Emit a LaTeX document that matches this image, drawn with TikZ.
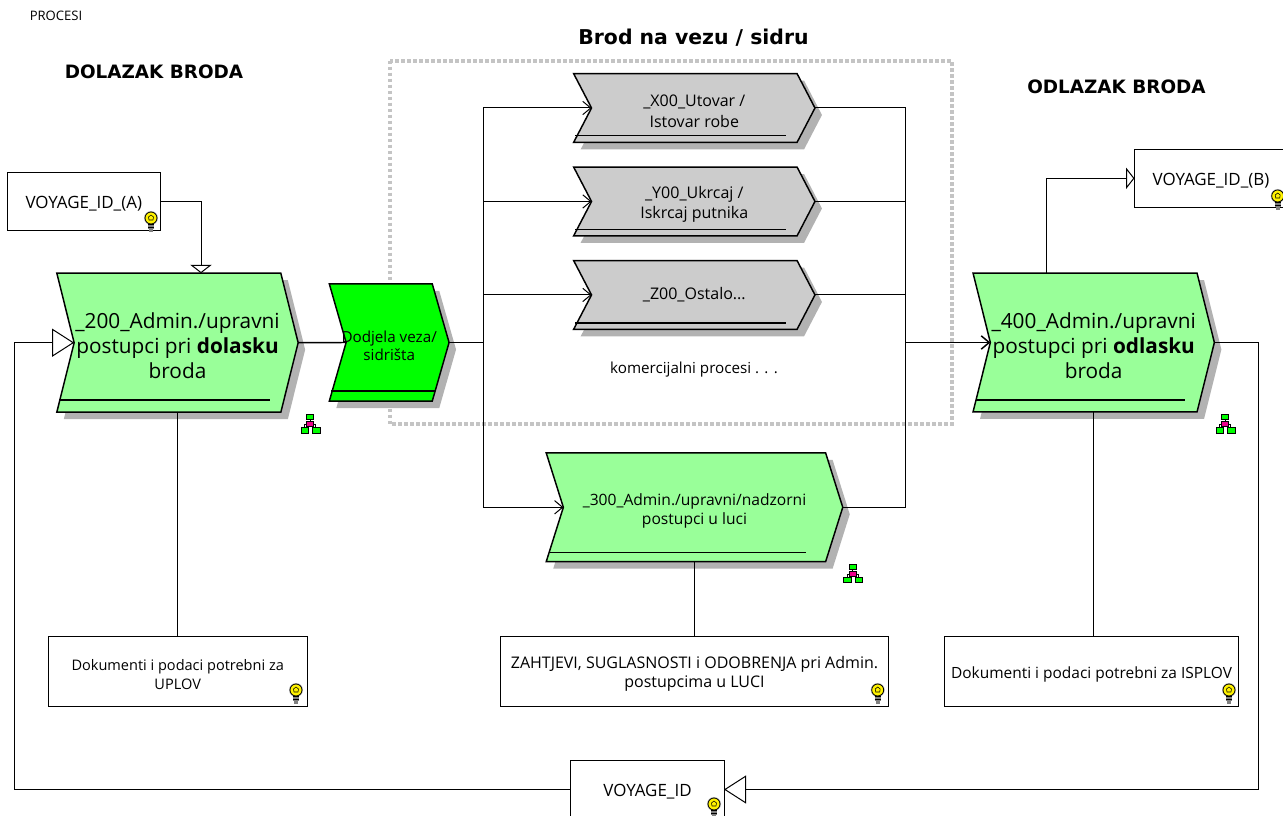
\documentclass[tikz,border=0pt]{standalone}
\usepackage{fontspec}
\setmainfont{Open Sans}
\newfontfamily\headfont{DejaVu Sans}
\usepackage{tikz}
\usetikzlibrary{shapes.symbols,shadows,arrows.meta,positioning}
\definecolor{lightgreen}{HTML}{99FF99}
\definecolor{fullgreen}{HTML}{00FF00}
\definecolor{greybox}{HTML}{CCCCCC}
\definecolor{greyshadow}{HTML}{B2B2B2}
\definecolor{greyframe}{HTML}{C4C4C4}
\newcommand{\topgap}[1]{\rule{0pt}{#1}}
\tikzset{
	bulb/.pic={
		\fill[white!75!black] (0,0) circle (7);
		\fill[gray] (-3,4) rectangle (3,11);
		\fill[gray] (-2,11) rectangle (2,14);
		\draw[black,line width=0.4pt] (-3,6.5) -- (3,6.5) (-3,9) -- (3,9);
		\draw[black,fill=yellow,line width=0.6pt] (0,0) circle (6);
		\draw[black,line width=0.4pt] (-2,2) -- (-2.5,-1) -- (0,-3) -- (2.5,-1) -- (2,2) -- cycle;
	},
	tree/.pic={
		\draw[black,line width=0.5pt] (3.5,2) -- (3.5,9) (-2,16) -- (-2,10) -- (9,10) -- (9,16);
		\draw[black,fill=fullgreen,line width=0.5pt] (0,0) rectangle (7,5);
		\draw[black,fill=magenta,line width=0.5pt] (0,7) rectangle (7,12);
		\draw[black,fill=fullgreen,line width=0.5pt] (-5.5,13) rectangle (2,18.5);
		\draw[black,fill=fullgreen,line width=0.5pt] (6,13) rectangle (13.5,18.5);
	}
}
\begin{document}
\begin{tikzpicture}[x=0.75pt,y=-0.75pt]
	\tikzstyle{chevron} = [draw, signal, signal to=east, signal from=west, line width=1.1pt,
	inner sep=0pt, outer sep=0pt, align=center,
	drop shadow={shadow xshift=5.25pt, shadow yshift=-5.25pt, fill=greyshadow, opacity=1}];
	\tikzstyle{bigtext} = [font=\fontsize{15.6}{18.8}\selectfont];
	\tikzstyle{smalltext} = [font=\fontsize{11.4}{14.4}\selectfont];
	\tikzstyle{admin} = [chevron, bigtext, fill=lightgreen, minimum width=181pt, minimum height=104.2pt, signal pointer angle=152];
	\tikzstyle{commercial} = [chevron, font=\fontsize{12}{15.2}\selectfont, fill=greybox, minimum width=181pt, minimum height=51.6pt, signal pointer angle=125];
	\tikzstyle{notebox} = [draw, smalltext, fill=white, inner sep=0pt, outer sep=0pt, align=center, line width=0.75pt];
	\tikzstyle{voyagebox} = [notebox, font=\fontsize{12.7}{15}\selectfont, minimum width=114.8pt, minimum height=43.5pt];
	\tikzstyle{heading} = [font=\headfont\fontsize{13.8}{16}\selectfont\bfseries];
	\tikzstyle{link} = [line width=0.75pt];
	\tikzstyle{mainlink} = [line width=1.1pt];
	\tikzstyle{flow} = [link, -{Straight Barb[length=6pt,width=10pt]}];
	\tikzstyle{bigtip} = [link, -{Triangle[open,fill=white,length=16.5pt,width=21pt]}];
	\tikzstyle{smalltip} = [link, -{Triangle[open,fill=white,length=6.3pt,width=16pt]}];
	\useasboundingbox (0,0) rectangle (1283,816);

	\draw[greyframe, line width=3pt, dash pattern=on 2.6pt off 1.9pt] (390,60.7) rectangle (951.7,424.3);

	\node[font=\fontsize{9.8}{11}\selectfont] (procesi) at (56,16) {PROCESI};
	\node[heading] (arrival) at (154,72) {DOLAZAK BRODA};
	\node[heading] (departure) at (1116.5,87) {ODLAZAK BRODA};
	\node[heading, font=\headfont\fontsize{15.3}{17}\selectfont\bfseries] (berth) at (693.5,38) {Brod na vezu / sidru};

	\node[admin] (admin200) at (177.5,342.7) {\topgap{17pt}\_200\_Admin./upravni\\postupci pri \textbf{dolasku}\\broda};
	\node[chevron, font=\fontsize{11.4}{13.6}\selectfont, fill=fullgreen, minimum width=89.8pt, minimum height=87.8pt, signal pointer angle=148] (mooring) at (389.2,342.5) {\topgap{14pt}\makebox[50pt]{Dodjela veza/}\\\makebox[50pt]{sidrišta}};
	\node[commercial] (cargo) at (694.3,108) {\topgap{13.5pt}\_X00\_Utovar /\\Istovar robe};
	\node[commercial, below=18.5pt of cargo] (passenger) {\topgap{13.5pt}\_Y00\_Ukrcaj /\\Iskrcaj putnika};
	\node[commercial, below=18.5pt of passenger] (other) {\_Z00\_Ostalo...};
	\node[chevron, font=\fontsize{11.7}{14.4}\selectfont, fill=lightgreen, minimum width=222.4pt, minimum height=81.5pt, signal pointer angle=145] (admin300) at (694.5,507.3) {\topgap{14.5pt}\_300\_Admin./upravni/nadzorni\\postupci u luci};
	\node[admin] (admin400) at (1093.7,342.5) {\topgap{17pt}\_400\_Admin./upravni\\postupci pri \textbf{odlasku}\\broda};
	\node[smalltext] (commerce) at (694,370) {komercijalni procesi . . .};

	\node[voyagebox] (voyagea) at (83.8,202) {\topgap{12.5pt}VOYAGE\_ID\_(A)};
	\node[voyagebox] (voyageb) at (1211,178.3) {\topgap{12.5pt}VOYAGE\_ID\_(B)};
	\node[notebox, font=\fontsize{10.9}{14.3}\selectfont, minimum width=194.3pt, minimum height=53.2pt] (docsin) at (177.7,671.5) {\topgap{13pt}Dokumenti i podaci potrebni za\\UPLOV};
	\node[notebox, font=\fontsize{12}{14.3}\selectfont, minimum width=291.3pt, minimum height=53.2pt] (docsport) at (694.5,671.5) {\topgap{13pt}ZAHTJEVI, SUGLASNOSTI i ODOBRENJA pri Admin.\\postupcima u LUCI};
	\node[notebox, font=\fontsize{11.6}{14.3}\selectfont, minimum width=221.2pt, minimum height=53.2pt] (docsout) at (1091.5,671.5) {\topgap{14pt}Dokumenti i podaci potrebni za ISPLOV};
	\node[voyagebox] (voyage) at (647.5,789.5) {\topgap{12.5pt}VOYAGE\_ID};

	\foreach \xa/\xb/\ya in {59/270/400, 331/435/391, 575/786/135.7, 575/786/229.5, 575/786/323, 550/806/552.3, 976/1185/400}
		\draw[line width=0.9pt] (\xa,\ya) -- (\xb,\ya);
	\foreach \xa/\ya in {151/218, 1277.7/196, 296/690, 877.7/690, 1229/690, 714/804}
		\pic at (\xa,\ya) {bulb};
	\foreach \xa/\ya in {306.7/414.7, 1221.7/414.7, 849.3/564.3}
		\pic at (\xa,\ya) {tree};

	\coordinate (joinleft) at (483,342.5);
	\coordinate (joinright) at (905.3,342.5);
	\coordinate (leftcorner) at (14,789.5);
	\coordinate (rightcorner) at (1258,789.5);

	\draw[mainlink] (admin200.east) -- (mooring.west);
	\draw[mainlink] (mooring.east) -- (joinleft);
	\draw[flow] (joinleft) |- (cargo.west);
	\draw[flow] (joinleft) |- (passenger.west);
	\draw[flow] (joinleft) |- (other.west);
	\draw[flow] (joinleft) |- (admin300.west);
	\draw[link] (cargo.east) -| (joinright);
	\draw[link] (passenger.east) -| (joinright);
	\draw[link] (other.east) -| (joinright);
	\draw[link] (admin300.east) -| (joinright);
	\draw[mainlink, -{Straight Barb[length=6pt,width=10pt]}] (joinright) -- (admin400.west);
	\draw[smalltip] (voyagea.east |- 0,201.7) -| (admin200.north -| 201,0);
	\draw[smalltip] (admin400.north -| 1046.7,0) |- (voyageb.west);
	\draw[link] (admin200.south -| docsin.north) -- (docsin.north);
	\draw[link] (admin300.south) -- (docsport.north);
	\draw[link] (admin400.south) -- (admin400.south |- docsout.north);
	\draw[link] (admin400.east) -| (rightcorner);
	\draw[bigtip] (rightcorner) -- (voyage.east);
	\draw[link] (voyage.west) -- (leftcorner);
	\draw[bigtip] (leftcorner) |- (admin200.west);
\end{tikzpicture}
\end{document}
